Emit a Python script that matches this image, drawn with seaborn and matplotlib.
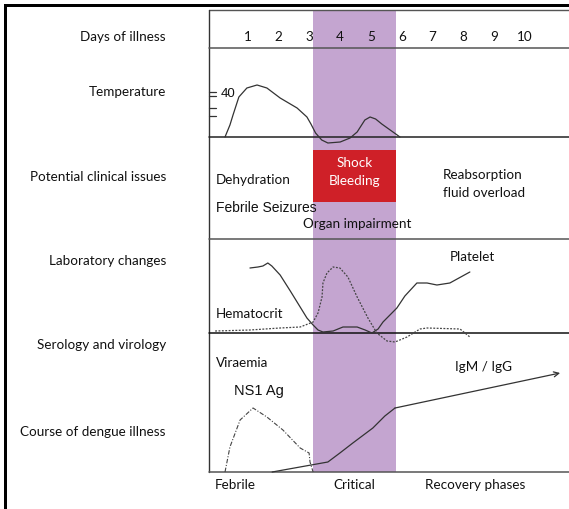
import numpy as np
import matplotlib.pyplot as plt
import seaborn as sns
from matplotlib.patches import Rectangle

# day axis: days 1..10, the diagram's y runs in rows from the top (0) to the bottom (509)
days = [1, 2, 3, 4, 5, 6, 7, 8, 9, 10]
row_names = ["Days of illness", "Temperature", "Potential clinical issues",
             "Laboratory changes", "Serology and virology", "Course of dengue illness"]
phases = ["Febrile", "Critical", "Recovery phases"]

# temperature curve (day, height from top)
temp_day = [0.26, 0.42, 0.52, 0.71, 0.97, 1.30, 1.62, 2.05, 2.60, 2.92, 3.05, 3.20,
            3.40, 3.60, 4.00, 4.32, 4.55, 4.80, 4.97, 5.15, 5.35, 5.94]
temp_y = [137, 125, 115, 97, 88, 85, 88, 98, 108, 117, 124, 133,
          140, 143, 142, 138, 132, 120, 117, 119, 124, 137]

# platelet (solid) curve
plt_day = [1.07, 1.33, 1.49, 1.65, 1.78, 2.05, 2.38, 2.70, 2.92, 3.12, 3.28, 3.44,
           3.77, 4.09, 4.55, 4.81, 5.03, 5.23, 5.39, 5.84, 6.10, 6.49, 6.82, 7.14, 7.56, 8.21]
plt_y = [268, 267, 266, 263, 266, 275, 291, 307, 318, 325, 330, 332,
         331, 327, 327, 330, 333, 329, 322, 308, 296, 283, 283, 285, 283, 272]

# hematocrit (dotted) curve
hct_day = [-0.06, 1.07, 2.05, 2.70, 3.12, 3.28, 3.41, 3.44, 3.57, 3.77, 3.99, 4.25,
           4.55, 4.90, 5.19, 5.52, 5.78, 6.17, 6.59, 6.82, 7.89, 8.21]
hct_y = [331, 330, 328, 327, 322, 313, 297, 283, 273, 267, 268, 277,
         297, 318, 333, 341, 342, 337, 329, 328, 329, 337]

# NS1 antigen (dash-dot) curve
ns1_day = [0.26, 0.42, 0.75, 1.17, 1.62, 2.14, 2.70, 2.99, 3.02, 3.12]
ns1_y = [472, 447, 420, 408, 417, 430, 448, 453, 462, 472]

# IgM / IgG curve
igg_day = [1.79, 3.60, 3.99, 4.41, 5.06, 5.45, 5.78, 11.14]
igg_y = [472, 462, 453, 443, 428, 416, 408, 373]

critical_start, critical_end = 3.12, 5.81

sns.set_style("white")
plt.rcParams["font.family"] = ["Lato", "DejaVu Sans"]
ink = "#333333"
fs = 9.7

fig = plt.figure(figsize=(5.69, 5.09), dpi=100)
ax = fig.add_axes([0, 0, 1, 1])


def dx(px):
    return (px - 217) / 30.8


ax.set_xlim(dx(0), dx(569))
ax.set_ylim(509, 0)
ax.axis("off")

# critical phase band and shock box
ax.add_patch(Rectangle((critical_start, 10), critical_end - critical_start, 462,
                       facecolor="#c4a5d0", edgecolor="none", zorder=0))
ax.add_patch(Rectangle((critical_start, 150), critical_end - critical_start, 52,
                       facecolor="#cf2028", edgecolor="none", zorder=1))

# grid of rows
x0, x1 = dx(209), dx(569)
ax.plot([x0, x1], [10, 10], color="#555555", lw=1.0)
ax.plot([x0, x0], [10, 472], color="#333333", lw=1.0)
for yy, c in [(48, "#555555"), (137, "#222222"), (239, "#555555"),
              (333, "#111111"), (472, "#555555")]:
    ax.plot([x0, x1], [yy, yy], color=c, lw=1.1)

# temperature ticks
for yy in [92, 96, 108, 116]:
    ax.plot([x0, dx(216)], [yy, yy], color=ink, lw=0.9)
ax.text(dx(221), 94, "40", fontsize=9.5, va="center", ha="left",
        family=["Liberation Sans"], color="#111111")

# day numbers
for d in days:
    ax.text(d, 37, str(d), fontsize=fs, ha="center", va="center", color="#111111")

# row labels
row_y = [37, 92, 177, 261, 345, 432]
for name, yy in zip(row_names, row_y):
    ax.text(dx(166), yy, name, fontsize=fs, ha="right", va="center", color="#111111")

# curves
sns.lineplot(x=temp_day, y=temp_y, sort=False, ax=ax, color=ink, lw=0.9)
sns.lineplot(x=plt_day, y=plt_y, sort=False, ax=ax, color=ink, lw=0.9)
sns.lineplot(x=hct_day, y=hct_y, sort=False, ax=ax, color="#444444", lw=0.9,
             linestyle=(0, (1.5, 1.2)))
sns.lineplot(x=ns1_day, y=ns1_y, sort=False, ax=ax, color="#444444", lw=0.8,
             linestyle=(0, (4, 1.5, 1, 1.5)))
sns.lineplot(x=igg_day[:-1], y=igg_y[:-1], sort=False, ax=ax, color=ink, lw=0.9)
ax.annotate("", xy=(igg_day[-1], igg_y[-1]), xytext=(igg_day[-2], igg_y[-2]),
            arrowprops=dict(arrowstyle="->", color=ink, lw=0.9,
                            shrinkA=0, shrinkB=0, mutation_scale=9))

# annotations
mid = (critical_start + critical_end) / 2
ax.text(mid, 163, "Shock", color="white", fontsize=fs, ha="center", va="center")
ax.text(mid, 181, "Bleeding", color="white", fontsize=fs, ha="center", va="center")
ax.text(dx(216), 180, "Dehydration", fontsize=fs, va="center", color="#111111")
ax.text(dx(216), 208, "Febrile Seizures", fontsize=10, va="center",
        family=["Liberation Sans"], color="#111111")
ax.text(dx(303), 224, "Organ impairment", fontsize=fs, va="center", color="#111111")
ax.text(dx(443), 175, "Reabsorption", fontsize=fs, va="center", color="#111111")
ax.text(dx(443), 193, "fluid overload", fontsize=fs, va="center", color="#111111")
ax.text(dx(450), 257, "Platelet", fontsize=fs, va="center", color="#111111")
ax.text(dx(216), 314, "Hematocrit", fontsize=fs, va="center", color="#111111")
ax.text(dx(216), 363, "Viraemia", fontsize=fs, va="center", color="#111111")
ax.text(dx(234), 391, "NS1 Ag", fontsize=10.5, va="center",
        family=["Liberation Sans"], color="#111111")
ax.text(dx(455), 367, "IgM / IgG", fontsize=fs, va="center", color="#111111")

ax.text(dx(215), 485, phases[0], fontsize=fs, va="center", color="#111111")
ax.text(mid, 485, phases[1], fontsize=fs, va="center", ha="center", color="#111111")
ax.text(dx(425), 485, phases[2], fontsize=fs, va="center", color="#111111")

# outer frame (thick top and left rules)
fig.add_artist(Rectangle((4 / 569, 1 - 7 / 509), 565 / 569, 3 / 509,
                         transform=fig.transFigure, color="black", lw=0))
fig.add_artist(Rectangle((4 / 569, 0), 3 / 569, 1 - 4 / 509,
                         transform=fig.transFigure, color="black", lw=0))

fig.savefig("out.png", dpi=100)
